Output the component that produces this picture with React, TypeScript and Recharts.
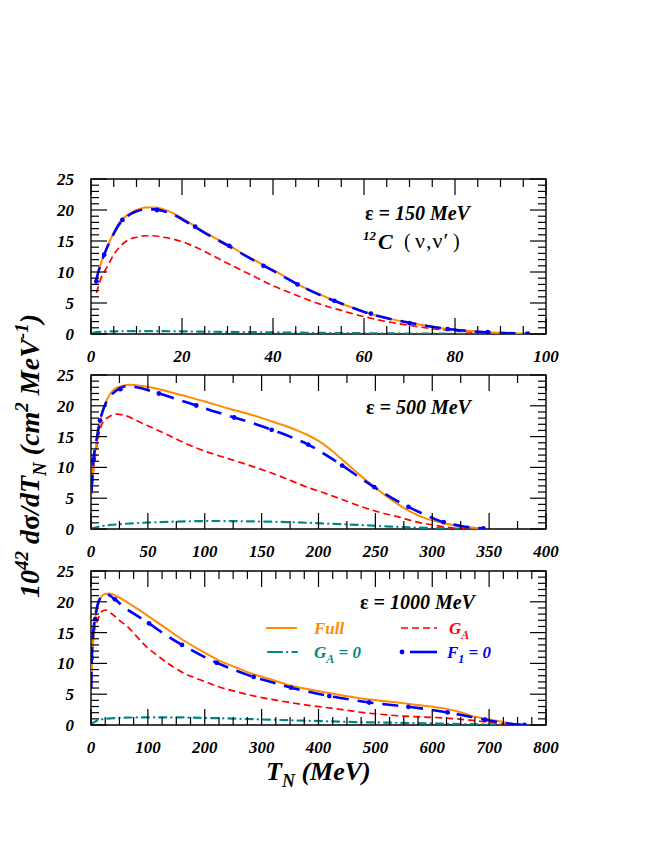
import React from 'react';
import { LineChart, Line, XAxis, YAxis, ReferenceArea } from 'recharts';

const FONT = '"Liberation Serif", "Times New Roman", serif';
const ORANGE = '#ff8c00';
const RED = '#ff0000';
const TEAL = '#00878a';
const BLUE = '#0000ff';

// ---------- tick values ----------
const yTicks = [0, 1, 2, 3, 4, 5, 6, 7, 8, 9, 10, 11, 12, 13, 14, 15, 16, 17, 18, 19, 20, 21, 22, 23, 24, 25];
const xTicks150 = [0, 5, 10, 15, 20, 25, 30, 35, 40, 45, 50, 55, 60, 65, 70, 75, 80, 85, 90, 95, 100];
const xTicks500 = [0, 25, 50, 75, 100, 125, 150, 175, 200, 225, 250, 275, 300, 325, 350, 375, 400];
const xTicks1000 = [0, 25, 50, 75, 100, 125, 150, 175, 200, 225, 250, 275, 300, 325, 350, 375, 400, 425, 450, 475, 500, 525, 550, 575, 600, 625, 650, 675, 700, 725, 750, 775, 800];

// ---------- eps = 150 MeV ----------
const full150 = [[1, 8.0], [2, 11.0], [3, 13.0], [4, 14.8], [5, 16.3], [6.5, 18.2], [8, 19.2], [10, 20.0], [12, 20.4], [14, 20.4], [16, 20.1], [18, 19.5], [20, 18.7], [23, 17.3], [26, 16.0], [30, 14.4], [34, 12.7], [38, 11.1], [42, 9.5], [46, 7.8], [50, 6.5], [54, 5.2], [58, 4.1], [62, 3.1], [66, 2.4], [70, 1.8], [74, 1.3], [78, 0.85], [82, 0.55], [86, 0.32], [90, 0.18], [93, 0.1], [96, 0.05]];
const ga150 = [[1.2, 6.6], [2, 8.6], [3.6, 10.9], [5, 12.8], [6.5, 14.2], [8, 15.1], [10, 15.6], [12, 15.85], [13.5, 15.85], [16, 15.6], [20, 14.9], [25, 13.3], [30, 11.4], [35, 9.6], [40, 7.8], [45, 6.3], [50, 4.9], [55, 3.8], [60, 2.8], [65, 2.0], [70, 1.4], [75, 0.85], [80, 0.5], [85, 0.25], [90, 0.1], [94, 0.03]];
const ga0150 = [[0.5, 0.2], [3, 0.38], [8, 0.45], [15, 0.45], [25, 0.38], [35, 0.3], [45, 0.22], [55, 0.15], [65, 0.1], [75, 0.06], [85, 0.03], [95, 0.01]];
const f1150 = [[1, 8.3], [2, 11.0], [3, 13.0], [4, 14.7], [5, 16.2], [6.5, 18.0], [8, 19.0], [10, 19.8], [12, 20.1], [14, 20.1], [16, 19.8], [18, 19.3], [20, 18.5], [23, 17.2], [26, 15.9], [30, 14.3], [34, 12.6], [38, 11.0], [42, 9.4], [46, 7.8], [50, 6.4], [54, 5.2], [58, 4.1], [62, 3.1], [66, 2.4], [70, 1.8], [74, 1.3], [78, 0.85], [82, 0.55], [86, 0.32], [90, 0.18], [93, 0.1], [96, 0.05]];
const f1Dots150 = [[1.2, 8.5], [2.9, 12.8], [6.9, 18.4], [14.5, 20.0], [22.9, 17.3], [30.4, 14.2], [37.9, 11.0], [45.4, 8.0], [53.5, 5.35], [61.5, 3.3], [70, 1.75], [78.4, 0.8], [87.2, 0.3], [96, 0.05]];

// ---------- eps = 500 MeV ----------
const full500 = [[0.5, 6.0], [2, 10.0], [4, 13.0], [7, 16.5], [10, 19.0], [14, 21.0], [20, 22.6], [27, 23.2], [35, 23.4], [45, 23.2], [60, 22.7], [80, 21.7], [100, 20.7], [120, 19.6], [140, 18.6], [160, 17.4], [180, 16.1], [190, 15.3], [200, 14.3], [210, 13.0], [220, 11.4], [230, 9.8], [240, 8.2], [250, 6.7], [260, 5.3], [270, 4.0], [280, 2.9], [290, 2.0], [300, 1.4], [310, 0.95], [320, 0.6], [332, 0.3], [345, 0.1]];
const ga500 = [[0.6, 5.75], [2, 9.0], [3.8, 11.7], [6, 14.5], [8.5, 16.5], [11, 17.5], [14.8, 18.1], [22.6, 18.65], [30.5, 18.4], [40, 17.6], [49.4, 16.8], [65, 15.5], [80.8, 14.1], [96, 12.9], [112.3, 11.9], [128, 11.0], [143.7, 10.05], [160, 9.0], [175.2, 7.9], [190, 6.8], [206.6, 5.75], [222, 4.7], [238, 3.6], [254, 2.7], [269.5, 2.0], [285, 1.2], [301, 0.65], [316.7, 0.2], [332, 0.05]];
const ga0500 = [[0.6, 0.1], [11.6, 0.54], [27, 0.8], [44.7, 1.0], [74.5, 1.2], [106, 1.3], [140.6, 1.24], [172, 1.13], [203.5, 0.9], [235, 0.65], [266, 0.38], [298, 0.16], [329, 0.05]];
const f1500 = [[0.5, 6.2], [2, 11.0], [4, 13.5], [8, 17.6], [12, 20.0], [18, 21.8], [25, 22.8], [32, 23.2], [40, 23.0], [60, 22.0], [80, 20.8], [92, 20.1], [110, 19.0], [126, 18.1], [145, 17.0], [159, 16.1], [175, 15.0], [191, 13.7], [205, 12.2], [221, 10.3], [235, 8.5], [249, 6.8], [264, 5.1], [279, 3.6], [295, 2.2], [310, 1.1], [325, 0.5], [345, 0.1]];
const f1Dots500 = [[2.2, 11.3], [7.9, 17.6], [25.8, 22.7], [59.7, 22.0], [92.5, 20.05], [125.8, 18.1], [158.8, 16.1], [190.9, 13.7], [220.8, 10.3], [249, 6.8], [279, 3.6], [310, 1.1], [345, 0.1]];

// ---------- eps = 1000 MeV ----------
const full1000 = [[0.3, 6.1], [1.5, 9.5], [3.1, 12.5], [5, 15.0], [7.5, 17.3], [10, 18.8], [13.8, 20.0], [18, 20.8], [23.3, 21.2], [32.7, 21.35], [45.3, 20.9], [67.3, 19.7], [98.7, 17.8], [130, 15.8], [161.6, 13.8], [193, 12.1], [224.5, 10.5], [256, 9.3], [287.4, 8.2], [320, 7.3], [350, 6.4], [382, 5.8], [413, 5.26], [445, 4.75], [476, 4.3], [508, 3.95], [539, 3.65], [570, 3.3], [602, 2.95], [621, 2.7], [645, 2.2], [665, 1.6], [680, 1.25], [696, 0.97], [712, 0.68], [728, 0.43], [745, 0.18], [759, 0.05]];
const ga1000 = [[0.2, 6.0], [1.3, 10.4], [4.4, 14.1], [7, 15.8], [10.7, 16.8], [15, 17.8], [20, 18.5], [26.4, 18.67], [35.8, 18.1], [50, 17.0], [67.3, 15.7], [83, 14.1], [98.7, 12.6], [115, 11.4], [130, 10.35], [145, 9.4], [161.6, 8.5], [193, 7.3], [224.5, 6.2], [256, 5.4], [287.4, 4.7], [318, 4.15], [350, 3.65], [382, 3.2], [413, 2.84], [445, 2.45], [476, 2.04], [508, 1.75], [539, 1.5], [570, 1.35], [602, 1.23], [635, 1.05], [665, 0.8], [696, 0.48], [728, 0.16], [753, 0.0]];
const ga01000 = [[0.3, 0.16], [10, 0.7], [23, 0.97], [50, 1.15], [86, 1.23], [149, 1.23], [212, 1.13], [275, 0.97], [338, 0.8], [400, 0.64], [463, 0.48], [527, 0.38], [589, 0.27], [652, 0.16], [715, 0.05], [760, 0.0]];
const f11000 = [[0.5, 6.0], [1.3, 10.9], [3, 14.0], [5, 16.0], [7.5, 17.5], [11, 19.3], [16, 20.6], [22, 21.1], [28, 21.2], [35, 20.9], [42, 20.4], [60, 19.0], [80, 17.8], [102, 16.5], [130, 14.7], [160, 13.0], [190, 11.5], [221, 10.1], [253, 8.9], [286, 7.8], [320, 6.9], [352, 6.06], [385, 5.35], [419, 4.7], [455, 4.15], [489, 3.65], [524, 3.3], [558, 2.95], [592, 2.55], [627, 2.04], [660, 1.45], [693, 0.86], [725, 0.35], [762, 0.0]];
const f1Dots1000 = [[1.3, 10.9], [7.5, 17.2], [42, 20.4], [102, 16.5], [160, 13.0], [221, 10.1], [286, 7.8], [352, 6.06], [419, 4.7], [489, 3.65], [558, 2.95], [627, 2.04], [693, 0.86], [762, 0.0]];

const toPts = (a: number[][]) => a.map(([x, y]) => ({ x, y }));

type PanelCfg = {
  top: number;
  h: number;
  xMax: number;
  xMajor: number;
  xTicks: number[];
  full: number[][];
  ga: number[][];
  ga0: number[][];
  f1: number[][];
  f1Dots: number[][];
};

const PLOT_W = 455;
const MARGIN_TOP = 10;

const tickText: React.CSSProperties = {
  fontFamily: FONT,
  fontWeight: 'bold',
  fontStyle: 'italic',
  fontSize: 17,
};

function isMajor(v: number, step: number) {
  const r = v / step;
  return Math.abs(r - Math.round(r)) < 1e-6;
}

function makeXTick(plotH: number, major: number) {
  return (props: any) => {
    const { x, y, payload } = props;
    const v = payload.value;
    const M = isMajor(v, major);
    const L = M ? 16 : 8;
    return (
      <g>
        <line x1={x} x2={x} y1={y} y2={y - L} stroke="#000" strokeWidth={1.2} />
        <line x1={x} x2={x} y1={y - plotH} y2={y - plotH + L} stroke="#000" strokeWidth={1.2} />
        {M && (
          <text x={x} y={y + 28} textAnchor="middle" fill="#000" style={tickText}>
            {v}
          </text>
        )}
      </g>
    );
  };
}

function makeYTick() {
  return (props: any) => {
    const { x, y, payload } = props;
    const v = payload.value;
    const M = isMajor(v, 5);
    const L = M ? 16 : 8;
    return (
      <g>
        <line x1={x} x2={x + L} y1={y} y2={y} stroke="#000" strokeWidth={1.2} />
        <line x1={x + PLOT_W} x2={x + PLOT_W - L} y1={y} y2={y} stroke="#000" strokeWidth={1.2} />
        {M && (
          <text x={x - 17} y={y + 6} textAnchor="end" fill="#000" style={tickText}>
            {v}
          </text>
        )}
      </g>
    );
  };
}

function Panel({ cfg }: { cfg: PanelCfg }) {
  const { top, h, xMax, xMajor, xTicks, full, ga, ga0, f1, f1Dots } = cfg;
  const chartH = MARGIN_TOP + h + 40;
  return (
    <div style={{ position: 'absolute', left: 0, top: top - MARGIN_TOP, width: 654, height: chartH }}>
      <LineChart
        width={654}
        height={chartH}
        margin={{ top: MARGIN_TOP, right: 108, bottom: 0, left: 51 }}
      >
        <XAxis
          type="number"
          dataKey="x"
          domain={[0, xMax]}
          ticks={xTicks}
          interval={0}
          height={40}
          tickSize={0}
          tickMargin={0}
          axisLine={false}
          tickLine={false}
          tick={makeXTick(h, xMajor)}
          allowDataOverflow
        />
        <YAxis
          type="number"
          domain={[0, 25]}
          ticks={yTicks}
          interval={0}
          width={40}
          tickSize={0}
          tickMargin={0}
          axisLine={false}
          tickLine={false}
          tick={makeYTick()}
          allowDataOverflow
        />
        <ReferenceArea x1={0} x2={xMax} y1={0} y2={25} fill="none" fillOpacity={0} stroke="#000" strokeWidth={1.4} />
        <Line
          data={toPts(ga0)}
          dataKey="y"
          type="monotone"
          stroke={TEAL}
          strokeWidth={2.2}
          strokeDasharray="7 5 0.3 5"
          strokeLinecap="round"
          dot={false}
          activeDot={false}
          isAnimationActive={false}
        />
        <Line
          data={toPts(ga)}
          dataKey="y"
          type="monotone"
          stroke={RED}
          strokeWidth={1.7}
          strokeDasharray="7 4"
          dot={false}
          activeDot={false}
          isAnimationActive={false}
        />
        <Line
          data={toPts(full)}
          dataKey="y"
          type="monotone"
          stroke={ORANGE}
          strokeWidth={2}
          dot={false}
          activeDot={false}
          isAnimationActive={false}
        />
        <Line
          data={toPts(f1)}
          dataKey="y"
          type="monotone"
          stroke={BLUE}
          strokeWidth={2.6}
          strokeDasharray="16 9"
          dot={false}
          activeDot={false}
          isAnimationActive={false}
        />
        <Line
          data={toPts(f1Dots)}
          dataKey="y"
          type="monotone"
          stroke="none"
          strokeWidth={0}
          dot={{ r: 2.4, fill: BLUE, stroke: 'none' }}
          activeDot={false}
          isAnimationActive={false}
        />
      </LineChart>
    </div>
  );
}

const panels: PanelCfg[] = [
  { top: 179, h: 155, xMax: 100, xMajor: 20, xTicks: xTicks150, full: full150, ga: ga150, ga0: ga0150, f1: f1150, f1Dots: f1Dots150 },
  { top: 375, h: 154, xMax: 400, xMajor: 50, xTicks: xTicks500, full: full500, ga: ga500, ga0: ga0500, f1: f1500, f1Dots: f1Dots500 },
  { top: 571, h: 154, xMax: 800, xMajor: 100, xTicks: xTicks1000, full: full1000, ga: ga1000, ga0: ga01000, f1: f11000, f1Dots: f1Dots1000 },
];

const label: React.CSSProperties = {
  fontFamily: FONT,
  fontWeight: 'bold',
  fontStyle: 'italic',
  fontSize: 17,
};
const big: React.CSSProperties = { ...label, fontSize: 20 };
const upright: React.CSSProperties = { fontStyle: 'normal', fontWeight: 'normal' };

function Overlay() {
  return (
    <svg
      width={654}
      height={846}
      style={{ position: 'absolute', left: 0, top: 0, pointerEvents: 'none' }}
    >
      {/* panel annotations */}
      <text x={365} y={220} style={big} fill="#000">
        <tspan style={{ fontStyle: 'normal' }}>ε</tspan> = 150 MeV
      </text>
      <text x={363} y={240} style={{ ...label, fontSize: 13 }} fill="#000">12</text>
      <text x={378} y={249} style={{ ...label, fontSize: 22 }} fill="#000">C</text>
      <text x={404} y={248} style={{ ...label, fontSize: 20, ...upright }} fill="#000">(</text>
      <text x={415} y={248} style={{ ...label, fontSize: 22, ...upright, letterSpacing: 1 }} fill="#000">ν,ν′</text>
      <text x={453} y={248} style={{ ...label, fontSize: 20, ...upright }} fill="#000">)</text>

      <text x={366} y={414} style={big} fill="#000">
        <tspan style={{ fontStyle: 'normal' }}>ε</tspan> = 500 MeV
      </text>
      <text x={360} y={609} style={big} fill="#000">
        <tspan style={{ fontStyle: 'normal' }}>ε</tspan> = 1000 MeV
      </text>

      {/* legend */}
      <line x1={266} x2={297} y1={628} y2={628} stroke={ORANGE} strokeWidth={2} />
      <text x={314} y={634} style={label} fill={ORANGE}>Full</text>
      <line x1={401} x2={437} y1={628} y2={628} stroke={RED} strokeWidth={1.7} strokeDasharray="7 4" />
      <text x={449} y={634} style={label} fill={RED}>
        G<tspan dy={5} style={{ fontSize: 12 }}>A</tspan>
      </text>
      <line x1={268} x2={297} y1={652} y2={652} stroke={TEAL} strokeWidth={2.2} strokeDasharray="14 5 0.3 5" strokeLinecap="round" />
      <text x={314} y={658} style={label} fill={TEAL}>
        G<tspan dy={5} style={{ fontSize: 12 }}>A</tspan>
        <tspan dy={-5}> = 0</tspan>
      </text>
      <circle cx={402} cy={652} r={2.4} fill={BLUE} />
      <line x1={410} x2={437} y1={652} y2={652} stroke={BLUE} strokeWidth={2.6} />
      <text x={447} y={658} style={label} fill={BLUE}>
        F<tspan dy={5} style={{ fontSize: 12 }}>1</tspan>
        <tspan dy={-5}> = 0</tspan>
      </text>

      {/* axis titles */}
      <text x={266} y={780} style={{ ...label, fontSize: 26 }} fill="#000">
        T<tspan dy={7} style={{ fontSize: 18 }}>N</tspan>
        <tspan dy={-7}> (MeV)</tspan>
      </text>
      <text
        transform="translate(39,456) rotate(-90)"
        textAnchor="middle"
        style={{ ...label, fontSize: 28 }}
        fill="#000"
      >
        10<tspan dy={-11} style={{ fontSize: 19 }}>42</tspan>
        <tspan dy={11}> d</tspan>
        <tspan style={{ fontStyle: 'normal' }}>σ</tspan>
        <tspan>/dT</tspan>
        <tspan dy={7} style={{ fontSize: 19 }}>N</tspan>
        <tspan dy={-7}> (cm</tspan>
        <tspan dy={-11} style={{ fontSize: 19 }}>2</tspan>
        <tspan dy={11}> MeV</tspan>
        <tspan dy={-11} style={{ fontSize: 19 }}>-1</tspan>
        <tspan dy={11}>)</tspan>
      </text>
    </svg>
  );
}

export default function App() {
  return (
    <div style={{ position: 'absolute', left: 0, top: 0, width: 654, height: 846, background: '#fff' }}>
      {panels.map((p, i) => (
        <Panel key={i} cfg={p} />
      ))}
      <Overlay />
    </div>
  );
}
